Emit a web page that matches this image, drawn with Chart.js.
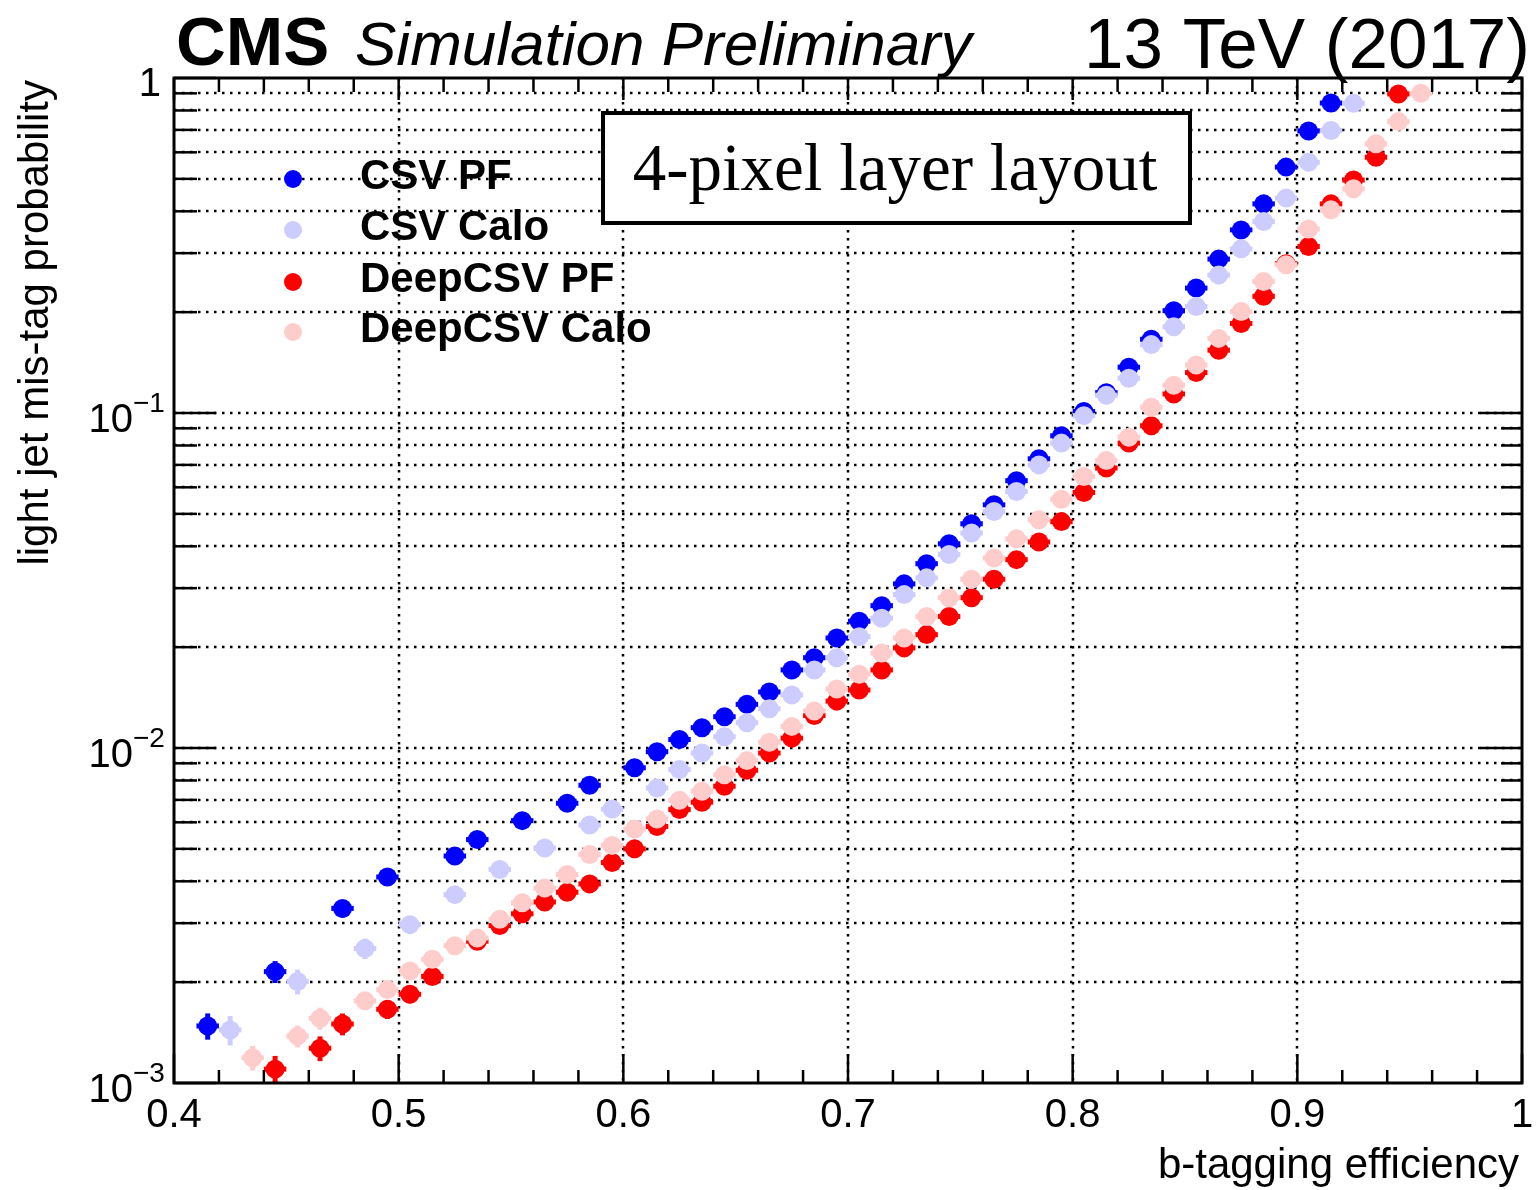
<!DOCTYPE html>
<html>
<head>
<meta charset="utf-8">
<title>Light jet mis-tag vs b-tagging efficiency</title>
<script src="https://cdn.jsdelivr.net/npm/chart.js@4.4.1/dist/chart.umd.min.js"></script>
<style>
  html, body { margin: 0; padding: 0; background: #fff; }
  canvas { display: block; }
</style>
</head>
<body>
<canvas id="roc" width="1536" height="1190"></canvas>
<script>
// b-jet efficiency (bin centres) and light-jet mis-tag probability per tagger
const csvPfEff = [0.415, 0.445, 0.475, 0.495, 0.525, 0.535, 0.555, 0.575, 0.585,
  0.605, 0.615, 0.625, 0.635, 0.645, 0.655, 0.665, 0.675, 0.685, 0.695, 0.705,
  0.715, 0.725, 0.735, 0.745, 0.755, 0.765, 0.775, 0.785, 0.795, 0.805, 0.815,
  0.825, 0.835, 0.845, 0.855, 0.865, 0.875, 0.885, 0.895, 0.905, 0.915];
const csvPfMistag = [0.00148, 0.00215, 0.00332, 0.00412, 0.00476, 0.00533, 0.00607, 0.00684, 0.00774,
  0.00873, 0.00975, 0.0106, 0.0115, 0.0124, 0.0135, 0.0147, 0.0171, 0.0186, 0.0213, 0.0239,
  0.0266, 0.0309, 0.0355, 0.0407, 0.0467, 0.0532, 0.0628, 0.0730, 0.0855, 0.101, 0.115,
  0.137, 0.166, 0.202, 0.236, 0.288, 0.352, 0.421, 0.542, 0.695, 0.842];

const csvCaloEff = [0.425, 0.455, 0.485, 0.505, 0.525, 0.545, 0.565, 0.585, 0.595,
  0.615, 0.625, 0.635, 0.645, 0.655, 0.665, 0.675, 0.685, 0.695, 0.705, 0.715,
  0.725, 0.735, 0.745, 0.755, 0.765, 0.775, 0.785, 0.795, 0.805, 0.815, 0.825,
  0.835, 0.845, 0.855, 0.865, 0.875, 0.885, 0.895, 0.905, 0.915, 0.925];
const csvCaloMistag = [0.00144, 0.00201, 0.00252, 0.00297, 0.00365, 0.00434, 0.00503, 0.00589, 0.00657,
  0.0076, 0.00862, 0.00966, 0.0108, 0.0119, 0.0131, 0.0144, 0.0171, 0.0186, 0.0215, 0.0244,
  0.0287, 0.0322, 0.0378, 0.0438, 0.0508, 0.0583, 0.0700, 0.0813, 0.0982, 0.113, 0.127,
  0.160, 0.181, 0.208, 0.258, 0.309, 0.373, 0.438, 0.560, 0.697, 0.840];

const deepPfEff = [0.445, 0.465, 0.475, 0.495, 0.505, 0.515,
  0.535, 0.545, 0.555, 0.565, 0.575, 0.585, 0.595, 0.605, 0.615, 0.625, 0.635,
  0.645, 0.655, 0.665, 0.675, 0.685, 0.695, 0.705, 0.715, 0.725, 0.735, 0.745,
  0.755, 0.765, 0.775, 0.785, 0.795, 0.805, 0.815, 0.825, 0.835, 0.845, 0.855,
  0.865, 0.875, 0.885, 0.895, 0.905, 0.915, 0.925, 0.935, 0.945];
const deepPfMistag = [0.00110, 0.00127, 0.00150, 0.00166, 0.00184, 0.00208,
  0.00265, 0.00295, 0.00320, 0.00347, 0.00371, 0.00393, 0.00455, 0.00500, 0.00583, 0.00655, 0.00689,
  0.00769, 0.00858, 0.00966, 0.0107, 0.0125, 0.0138, 0.0149, 0.0171, 0.0199, 0.0218, 0.0247,
  0.0281, 0.0319, 0.0365, 0.0412, 0.0474, 0.0579, 0.0685, 0.0813, 0.0916, 0.114, 0.132,
  0.154, 0.185, 0.223, 0.279, 0.314, 0.421, 0.496, 0.580, 0.896];

const deepCaloEff = [0.435, 0.455, 0.465,
  0.485, 0.495, 0.505, 0.515, 0.525, 0.535, 0.545, 0.555, 0.565, 0.575, 0.585,
  0.595, 0.605, 0.615, 0.625, 0.635, 0.645, 0.655, 0.665, 0.675, 0.685, 0.695,
  0.705, 0.715, 0.725, 0.735, 0.745, 0.755, 0.765, 0.775, 0.785, 0.795, 0.805,
  0.815, 0.825, 0.835, 0.845, 0.855, 0.865, 0.875, 0.885, 0.895, 0.905, 0.915,
  0.925, 0.935, 0.945, 0.955];
const deepCaloMistag = [0.00119, 0.00138, 0.00156,
  0.00176, 0.00190, 0.00216, 0.00234, 0.00257, 0.00271, 0.00308, 0.00345, 0.00382, 0.00419, 0.00481,
  0.00512, 0.00573, 0.00614, 0.00698, 0.00743, 0.00832, 0.00917, 0.0104, 0.0116, 0.0129, 0.0150,
  0.0166, 0.0192, 0.0213, 0.0247, 0.0281, 0.0319, 0.0369, 0.0421, 0.0480, 0.0553, 0.0646,
  0.0721, 0.0847, 0.104, 0.121, 0.139, 0.167, 0.201, 0.247, 0.277, 0.354, 0.404,
  0.467, 0.636, 0.741, 0.900];

// relative stat. uncertainty of the lowest-efficiency points (the rest hide behind the markers)
const csvPfYErr = [0.09, 0.075, 0.06, 0.05];
const csvCaloYErr = [0.10, 0.085, 0.07, 0.06];
const deepPfYErr = [0.095, 0.085, 0.075, 0.065, 0.06];
const deepCaloYErr = [0.085, 0.075, 0.075, 0.06];

const binHalfWidth = 0.005;

const seriesNames = ['CSV PF', 'CSV Calo', 'DeepCSV PF', 'DeepCSV Calo'];
const seriesColors = ['#0000ff', '#ccccff', '#ff0000', '#ffcccc'];

const xTicks = [0.4, 0.5, 0.6, 0.7, 0.8, 0.9, 1.0];
const xTickLabels = ['0.4', '0.5', '0.6', '0.7', '0.8', '0.9', '1'];
const yDecades = [0.001, 0.01, 0.1, 1];
const yDecadeExp = ['\u22123', '\u22122', '\u22121', ''];

const SANS = '"Liberation Sans", Arial, Helvetica, sans-serif';
const SERIF = '"Liberation Serif", "Times New Roman", serif';

function toPoints(eff, mistag) {
  return eff.map((x, i) => ({ x: x, y: mistag[i] }));
}

function line(ctx, x1, y1, x2, y2) {
  ctx.beginPath();
  ctx.moveTo(x1, y1);
  ctx.lineTo(x2, y2);
  ctx.stroke();
}

// ROOT-style frame: dotted grid, inward ticks, labels, legend and captions
const rootFrame = {
  id: 'rootFrame',

  beforeDatasetsDraw(chart) {
    const { ctx, chartArea: a, scales: { x, y } } = chart;
    ctx.save();
    ctx.strokeStyle = '#000';
    ctx.lineWidth = 2.5;
    ctx.setLineDash([2.5, 5.5]);
    xTicks.slice(1, -1).forEach(v => {
      const px = Math.round(x.getPixelForValue(v));
      line(ctx, px, a.top, px, a.bottom);
    });
    yDecades.slice(0, -1).forEach(d => {
      for (let m = 1; m <= 9; m++) {
        if (d === yDecades[0] && m === 1) continue;
        const py = Math.round(y.getPixelForValue(d * m));
        line(ctx, a.left, py, a.right, py);
      }
    });
    ctx.restore();
  },

  beforeDatasetDraw(chart, args) {
    const { ctx, scales: { x, y } } = chart;
    const ds = chart.data.datasets[args.index];
    ctx.save();
    ctx.strokeStyle = ds.backgroundColor;
    ctx.lineWidth = 5;
    ds.data.forEach((p, i) => {
      const py = y.getPixelForValue(p.y);
      line(ctx, x.getPixelForValue(p.x - binHalfWidth), py, x.getPixelForValue(p.x + binHalfWidth), py);
      const e = ds.yErr[i];
      if (e) {
        const px = x.getPixelForValue(p.x);
        line(ctx, px, y.getPixelForValue(p.y * (1 - e)), px, y.getPixelForValue(p.y * (1 + e)));
      }
    });
    ctx.restore();
  },

  afterDraw(chart) {
    const { ctx, chartArea: a, scales: { x, y } } = chart;
    ctx.save();
    ctx.strokeStyle = '#000';
    ctx.fillStyle = '#000';
    ctx.lineWidth = 2.5;

    // x ticks, bottom and top
    for (let i = 0; i < xTicks.length; i++) {
      const px = x.getPixelForValue(xTicks[i]);
      line(ctx, px, a.bottom, px, a.bottom - 29);
      line(ctx, px, a.top, px, a.top + 22);
      if (i < xTicks.length - 1) {
        const step = (xTicks[i + 1] - xTicks[i]) / 5;
        for (let k = 1; k < 5; k++) {
          const mx = x.getPixelForValue(xTicks[i] + k * step);
          line(ctx, mx, a.bottom, mx, a.bottom - 13);
          line(ctx, mx, a.top, mx, a.top + 14);
        }
      }
    }

    // y ticks, left and right
    yDecades.forEach((d, i) => {
      const py = y.getPixelForValue(d);
      line(ctx, a.left, py, a.left + 42, py);
      line(ctx, a.right, py, a.right - 42, py);
      if (i < yDecades.length - 1) {
        for (let m = 2; m <= 9; m++) {
          const my = y.getPixelForValue(d * m);
          line(ctx, a.left, my, a.left + 23, my);
          line(ctx, a.right, my, a.right - 21, my);
        }
      }
    });

    // frame
    ctx.lineWidth = 3;
    ctx.strokeRect(a.left, a.top, a.right - a.left, a.bottom - a.top);

    // x tick labels
    ctx.font = '40px ' + SANS;
    ctx.textAlign = 'center';
    ctx.textBaseline = 'alphabetic';
    xTicks.forEach((v, i) => {
      ctx.fillText(xTickLabels[i], x.getPixelForValue(v), a.bottom + 44);
    });

    // y tick labels (10 with superscript exponent)
    yDecades.forEach((d, i) => {
      const py = y.getPixelForValue(d);
      if (yDecadeExp[i] === '') {
        ctx.font = '40px ' + SANS;
        ctx.textAlign = 'right';
        ctx.fillText('1', 161, py + 18);
        return;
      }
      ctx.font = '40px ' + SANS;
      ctx.textAlign = 'right';
      ctx.fillText('10', 133, py + 19);
      ctx.font = '28px ' + SANS;
      ctx.textAlign = 'left';
      ctx.fillText(yDecadeExp[i], 133, py - 1);
    });

    // axis titles
    ctx.font = '42px ' + SANS;
    ctx.textAlign = 'right';
    ctx.fillText('b-tagging efficiency', 1519, 1178);
    ctx.save();
    ctx.translate(48, 80);
    ctx.rotate(-Math.PI / 2);
    ctx.fillText('light jet mis-tag probability', 0, 0);
    ctx.restore();

    // header
    ctx.textAlign = 'left';
    ctx.font = 'bold 69px ' + SANS;
    ctx.fillText('CMS', 176, 65);
    ctx.font = 'italic 62px ' + SANS;
    ctx.fillText('Simulation Preliminary', 355, 65);
    ctx.font = '71px ' + SANS;
    ctx.textAlign = 'right';
    ctx.fillText('13 TeV (2017)', 1530, 68);

    // legend
    const rows = [179, 230, 282, 332];
    ctx.font = 'bold 42px ' + SANS;
    ctx.textAlign = 'left';
    seriesNames.forEach((name, i) => {
      ctx.fillStyle = seriesColors[i];
      ctx.beginPath();
      ctx.arc(293, rows[i], 9, 0, Math.PI * 2);
      ctx.fill();
      ctx.fillStyle = '#000';
      ctx.fillText(name, 360, rows[i] + 10);
    });

    // layout caption box
    ctx.fillStyle = '#fff';
    ctx.fillRect(603, 113, 587, 110);
    ctx.lineWidth = 4;
    ctx.strokeRect(603, 113, 587, 110);
    ctx.fillStyle = '#000';
    ctx.font = '67px ' + SERIF;
    ctx.textAlign = 'center';
    ctx.fillText('4-pixel layer layout', 895, 190);

    ctx.restore();
  }
};

function series(i, eff, mistag, yErr, order) {
  return {
    label: seriesNames[i],
    data: toPoints(eff, mistag),
    yErr: yErr,
    backgroundColor: seriesColors[i],
    borderWidth: 0,
    pointRadius: 9.5,
    pointHoverRadius: 9.5,
    pointBorderWidth: 0,
    showLine: false,
    order: order
  };
}

new Chart(document.getElementById('roc'), {
  type: 'scatter',
  data: {
    datasets: [
      series(0, csvPfEff, csvPfMistag, csvPfYErr, 4),
      series(1, csvCaloEff, csvCaloMistag, csvCaloYErr, 3),
      series(2, deepPfEff, deepPfMistag, deepPfYErr, 2),
      series(3, deepCaloEff, deepCaloMistag, deepCaloYErr, 1)
    ]
  },
  options: {
    responsive: false,
    animation: false,
    devicePixelRatio: 1,
    layout: { padding: { left: 174, right: 14, top: 78, bottom: 107 } },
    scales: {
      x: { type: 'linear', min: 0.4, max: 1, display: false },
      y: { type: 'logarithmic', min: 0.001, max: 1, display: false }
    },
    plugins: {
      legend: { display: false },
      tooltip: { enabled: false }
    }
  },
  plugins: [rootFrame]
});
</script>
</body>
</html>
